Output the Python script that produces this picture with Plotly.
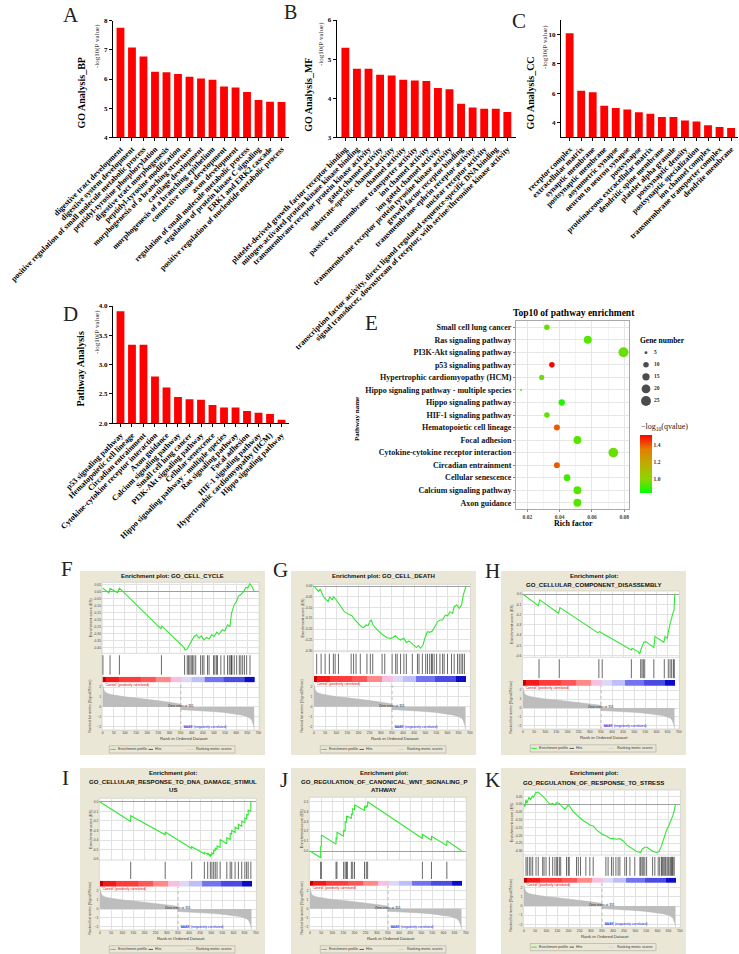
import plotly.graph_objects as go

W, H = 739, 954
SERIF = 'Liberation Serif'
SANS = 'Liberation Sans'

# ---------------- data ----------------
A_TERMS = ["digestive tract development", "digestive system development",
           "positive regulation of small molecule metabolic process", "peptidyl-tyrosine phosphorylation",
           "digestive tract morphogenesis", "peptidyl-tyrosine modification",
           "morphogenesis of a branching structure", "cartilage development",
           "morphogenesis of a branching epithelium", "connective tissue development",
           "axon development", "regulation of small molecule metabolic process",
           "regulation of protein kinase C signaling", "ERK1 and ERK2 cascade",
           "positive regulation of nucleotide metabolic process"]
A_LOGP = [7.76, 7.08, 6.77, 6.25, 6.23, 6.17, 6.08, 6.02, 5.97, 5.74, 5.71, 5.55, 5.28, 5.22, 5.21]

B_TERMS = ["platelet-derived growth factor receptor binding",
           "mitogen-activated protein kinase kinase binding",
           "transmembrane receptor protein kinase activity",
           "gated channel activity", "substrate-specific channel activity", "channel activity",
           "passive transmembrane transporter activity", "ion channel activity",
           "ion gated channel activity", "transmembrane receptor protein tyrosine kinase activity",
           "growth factor receptor binding", "transmembrane-ephrin receptor activity",
           "nuclear receptor activity",
           "transcription factor activity, direct ligand regulated sequence-specific DNA binding",
           "signal transducer, downstream of receptor, with serine/threonine kinase activity"]
B_LOGP = [5.29, 4.75, 4.75, 4.60, 4.58, 4.47, 4.45, 4.44, 4.26, 4.23, 3.86, 3.76, 3.73, 3.73, 3.65]

C_TERMS = ["receptor complex", "extracellular matrix", "synaptic membrane", "postsynaptic membrane",
           "asymmetric synapse", "neuron to neuron synapse", "postsynapse",
           "proteinaceous extracellular matrix", "dendritic spine membrane", "platelet alpha granule",
           "postsynaptic density", "postsynaptic specialization", "ion channel complex",
           "transmembrane transporter complex", "dendrite membrane"]
C_LOGP = [10.1, 6.18, 6.07, 5.16, 5.0, 4.89, 4.70, 4.61, 4.38, 4.38, 4.14, 4.07, 3.82, 3.71, 3.64]

D_TERMS = ["p53 signaling pathway", "Hematopoietic cell lineage", "Circadian entrainment",
           "Cytokine-cytokine receptor interaction", "Axon guidance", "Calcium signaling pathway",
           "Small cell lung cancer", "PI3K-Akt signaling pathway", "Cellular senescence",
           "Hippo signaling pathway - multiple species", "Ras signaling pathway", "Focal adhesion",
           "HIF-1 signaling pathway", "Hypertrophic cardiomyopathy (HCM)", "Hippo signaling pathway"]
D_LOGP = [3.91, 3.34, 3.34, 2.80, 2.61, 2.45, 2.41, 2.40, 2.31, 2.27, 2.27, 2.21, 2.18, 2.16, 2.06]

E_PATHWAYS = ["Small cell lung cancer", "Ras signaling pathway", "PI3K-Akt signaling pathway",
              "p53 signaling pathway", "Hypertrophic cardiomyopathy (HCM)",
              "Hippo signaling pathway - multiple species", "Hippo signaling pathway",
              "HIF-1 signaling pathway", "Hematopoietic cell lineage", "Focal adhesion",
              "Cytokine-cytokine receptor interaction", "Circadian entrainment",
              "Cellular senescence", "Calcium signaling pathway", "Axon guidance"]
E_RICH = [0.0321, 0.0574, 0.0795, 0.0352, 0.0289, 0.0161, 0.0413, 0.0321, 0.0383, 0.0510,
          0.0732, 0.0383, 0.0446, 0.0510, 0.0510]
E_GENES = [10, 17, 25, 10, 9, 4, 12, 10, 11, 17, 24, 11, 13, 17, 17]
E_NLOGQ = [0.95, 0.93, 0.95, 1.52, 0.95, 0.95, 0.86, 0.95, 1.40, 0.93, 0.95, 1.40, 0.90, 0.93, 0.93]
LEGEND_GENES = [5, 10, 15, 20, 25]
E_XTICKS = [0.02, 0.04, 0.06, 0.08]
E_CTICKS = [1.0, 1.2, 1.4]

# shared ranked list (Signal2Noise) of the GSEA panels
ZERO_CROSS = 351
RM_RANK = [0, 2, 5, 10, 20, 35, 50, 75, 100, 150, 200, 250, 300, 330, 351, 351, 400, 450,
           500, 550, 600, 630, 650, 662, 670, 675, 679, 681]
RM_VAL = [2.3, 2.0, 1.75, 1.52, 1.38, 1.27, 1.2, 1.1, 1.02, 0.9, 0.78, 0.62, 0.46, 0.36, 0.28,
          -0.28, -0.33, -0.40, -0.48, -0.58, -0.72, -0.85, -1.0, -1.15, -1.35, -1.6, -1.95, -2.3]
CB_EDGES = [0, 12, 70, 170, 240, 305, 355, 400, 460, 545, 640, 681]
CB_LEVELS = [0, 1, 2, 3, 4, 5, 6, 7, 8, 9, 10]

F_ES_RANK = [0, 27, 33, 66, 75, 262, 265, 365, 370, 380, 388, 398, 410, 422, 433, 443, 455, 466,
             478, 489, 501, 513, 523, 538, 549, 561, 572, 579, 591, 602, 609, 621, 634, 644, 652,
             661, 670, 681]
F_ES = [0.025, -0.008, 0.024, -0.008, 0.024, -0.264, -0.243, -0.395, -0.415, -0.407, -0.383,
        -0.35, -0.32, -0.307, -0.331, -0.314, -0.343, -0.326, -0.336, -0.307, -0.317, -0.288,
        -0.302, -0.271, -0.279, -0.236, -0.248, -0.152, -0.093, -0.069, -0.033, -0.021, 0.002,
        0.031, 0.026, 0.055, 0.038, 0.0]
F_HITS = [1, 33, 75, 264, 368, 380, 386, 392, 398, 404, 410, 418, 440, 448, 455, 471, 478, 498,
          504, 511, 516, 531, 546, 561, 569, 576, 579, 581, 591, 602, 614, 621, 629, 637, 647, 662]

G_ES_RANK = [0, 20, 27, 43, 63, 71, 82, 87, 95, 110, 125, 137, 148, 170, 185, 200, 213, 223, 234,
             243, 250, 258, 265, 284, 306, 329, 344, 354, 366, 378, 389, 404, 415, 427, 439, 449,
             460, 469, 479, 490, 499, 510, 520, 532, 543, 555, 566, 578, 590, 600, 611, 623, 630,
             641, 653, 663, 671, 679, 683]
G_ES = [0.0, -0.026, -0.014, -0.05, -0.073, -0.05, -0.065, -0.05, -0.057, -0.08, -0.10, -0.12,
        -0.127, -0.138, -0.158, -0.173, -0.189, -0.193, -0.181, -0.184, -0.166, -0.158, -0.181,
        -0.204, -0.224, -0.24, -0.243, -0.24, -0.231, -0.243, -0.251, -0.243, -0.262, -0.255,
        -0.266, -0.274, -0.286, -0.277, -0.289, -0.274, -0.24, -0.212, -0.215, -0.209, -0.189,
        -0.166, -0.158, -0.158, -0.135, -0.138, -0.119, -0.127, -0.096, -0.088, -0.104, -0.088,
        -0.042, -0.011, 0.0]
G_HITS = [12, 32, 50, 69, 87, 95, 110, 167, 178, 189, 208, 238, 253, 264, 306, 318, 351, 367, 374,
          389, 404, 415, 442, 465, 472, 487, 502, 510, 520, 528, 532, 540, 551, 566, 578, 585, 600,
          618, 630, 645, 653, 661, 668, 676]

H_ES_RANK = [0, 69, 75, 160, 166, 336, 344, 356, 487, 490, 517, 525, 529, 537, 543, 552, 588, 593,
             633, 638, 649, 653, 658, 664, 668, 673, 679, 682]
H_ES = [0.0, -0.111, -0.055, -0.186, -0.13, -0.375, -0.365, -0.381, -0.544, -0.528, -0.56, -0.586,
        -0.544, -0.489, -0.469, -0.463, -0.521, -0.414, -0.469, -0.414, -0.43, -0.365, -0.316,
        -0.267, -0.25, -0.186, -0.153, 0.0]
H_HITS = [72, 163, 341, 356, 487, 529, 535, 541, 547, 588, 635, 653, 661, 668, 676, 680]

I_ES_RANK = [0, 138, 138, 293, 293, 412, 412, 469, 469, 484, 484, 496, 496, 503, 503, 511, 511,
             518, 518, 526, 526, 540, 540, 570, 570, 585, 585, 592, 592, 607, 607, 622, 622, 637,
             637, 651, 651, 659, 659, 666, 666, 678, 678, 681]
I_ES = [0.0, -0.205, -0.145, -0.345, -0.315, -0.49, -0.47, -0.545, -0.53, -0.55, -0.535, -0.575,
        -0.55, -0.56, -0.535, -0.545, -0.505, -0.515, -0.485, -0.495, -0.46, -0.48, -0.395, -0.44,
        -0.375, -0.395, -0.33, -0.34, -0.30, -0.32, -0.265, -0.285, -0.235, -0.255, -0.20, -0.22,
        -0.17, -0.18, -0.13, -0.14, -0.085, -0.10, -0.005, 0.0]
I_HITS = [138, 293, 412, 469, 484, 496, 503, 511, 518, 526, 540, 570, 585, 592, 607, 622, 637, 651,
          659, 666, 678]

J_ES_RANK = [0, 48, 48, 51, 51, 117, 117, 121, 121, 151, 151, 158, 158, 164, 164, 168, 168, 186,
             186, 192, 192, 200, 200, 245, 245, 253, 253, 259, 259, 505, 505, 546, 546, 615, 615,
             681]
J_ES = [0.0, -0.068, 0.05, 0.045, 0.162, 0.07, 0.13, 0.125, 0.19, 0.15, 0.21, 0.20, 0.30, 0.29,
        0.35, 0.345, 0.355, 0.33, 0.38, 0.37, 0.43, 0.42, 0.47, 0.41, 0.45, 0.44, 0.46, 0.455, 0.50,
        0.127, 0.17, 0.11, 0.15, 0.055, 0.105, 0.003]
J_HITS = [48, 51, 117, 121, 151, 158, 164, 168, 186, 192, 200, 245, 253, 259, 505, 546, 615]

K_ES_RANK = [0, 4, 9, 13, 22, 30, 37, 43, 52, 64, 75, 87, 102, 117, 129, 136, 147, 159, 169, 184,
             199, 206, 221, 236, 251, 266, 281, 296, 311, 326, 341, 356, 371, 386, 401, 416, 431,
             446, 461, 476, 491, 506, 524, 531, 543, 553, 565, 580, 595, 607, 617, 628, 640, 652,
             662, 670, 676, 681]
K_ES = [0.0, -0.015, 0.03, 0.006, 0.045, 0.03, 0.053, 0.045, 0.075, 0.079, 0.064, 0.049, 0.023,
        0.0, 0.006, -0.004, 0.011, 0.006, -0.011, -0.032, -0.004, -0.015, -0.047, -0.068, -0.09,
        -0.105, -0.117, -0.132, -0.139, -0.164, -0.181, -0.196, -0.203, -0.218, -0.22, -0.224,
        -0.22, -0.235, -0.26, -0.275, -0.292, -0.303, -0.309, -0.288, -0.275, -0.275, -0.288,
        -0.303, -0.309, -0.303, -0.27, -0.218, -0.169, -0.132, -0.10, -0.068, -0.036, 0.0]
K_HITS = [9, 15, 24, 31, 39, 54, 64, 84, 90, 99, 114, 129, 139, 147, 151, 159, 165, 191, 199, 203,
          236, 244, 254, 278, 296, 311, 368, 378, 393, 401, 413, 423, 431, 453, 461, 476, 498, 521,
          525, 531, 536, 543, 551, 578, 588, 603, 610, 618, 622, 628, 633, 637, 643, 648, 652, 658,
          663, 667, 670, 675]

# ---------------- helpers ----------------
fig = go.Figure()
layout = dict(width=W, height=H, margin=dict(l=0, r=0, t=0, b=0, pad=0, autoexpand=False),
              paper_bgcolor='white', plot_bgcolor='rgba(0,0,0,0)', showlegend=False)
annotations, shapes = [], []
cnt = [0]


def px2x(p):
    return p / W


def px2y(p):
    return 1 - p / H


def add_axes(xpx, ypx, xkw=None, ykw=None):
    cnt[0] += 1
    n = cnt[0]
    s = '' if n == 1 else str(n)
    xa = dict(domain=[px2x(xpx[0]), px2x(xpx[1])], anchor='y' + s, showgrid=False, zeroline=False,
              showticklabels=False, ticks='', showline=False, fixedrange=True, automargin=False)
    ya = dict(domain=[px2y(ypx[1]), px2y(ypx[0])], anchor='x' + s, showgrid=False, zeroline=False,
              showticklabels=False, ticks='', showline=False, fixedrange=True, automargin=False)
    if xkw:
        xa.update(xkw)
    if ykw:
        ya.update(ykw)
    layout['xaxis' + s] = xa
    layout['yaxis' + s] = ya
    return 'x' + s, 'y' + s


def ann(text, x, y, size, color='black', family=SERIF, bold=False, angle=0, xanchor='center',
        yanchor='middle'):
    annotations.append(dict(text=text, x=px2x(x), y=px2y(y), xref='paper', yref='paper',
                            showarrow=False, textangle=angle, xanchor=xanchor, yanchor=yanchor,
                            borderpad=0,
                            font=dict(family=family, size=size, color=color,
                                      weight='bold' if bold else 'normal')))


def rect(x0, y0, x1, y1, fill=None, line=None, lw=0.8):
    shapes.append(dict(type='rect', xref='paper', yref='paper', x0=px2x(x0), x1=px2x(x1),
                       y0=px2y(y1), y1=px2y(y0), fillcolor=fill or 'rgba(0,0,0,0)',
                       line=dict(color=line or 'rgba(0,0,0,0)', width=lw if line else 0),
                       layer='below'))


def seg(x0, y0, x1, y1, color, lw=0.8):
    shapes.append(dict(type='line', xref='paper', yref='paper', x0=px2x(x0), x1=px2x(x1),
                       y0=px2y(y0), y1=px2y(y1), line=dict(color=color, width=lw)))


# ---------------- bar panels A-D ----------------
def bar_panel(terms, vals, xpx, ypx, xr, yr, yticks, ytext):
    xa, ya = add_axes(
        xpx, ypx,
        dict(range=xr, tickmode='array', tickvals=list(range(len(terms))), ticktext=terms,
             tickangle=-45, showticklabels=True,
             tickfont=dict(family=SERIF, size=8, color='black', weight='bold'),
             ticks='outside', ticklen=3, tickwidth=1, tickcolor='black', showline=True,
             linecolor='black', linewidth=1.3),
        dict(range=yr, tickmode='array', tickvals=yticks, ticktext=ytext, showticklabels=True,
             tickfont=dict(family=SERIF, size=7, color='black', weight='bold'),
             ticks='outside', ticklen=3, tickwidth=1, tickcolor='black', showline=True,
             linecolor='black', linewidth=1.3))
    fig.add_trace(go.Bar(x=list(range(len(terms))), y=vals, xaxis=xa, yaxis=ya, width=0.68,
                         marker=dict(color='#ff0000', line=dict(width=0))))


bar_panel(A_TERMS, A_LOGP, (113, 289), (20.7, 137.3), [-0.65, 14.65], [4, 8],
          [4, 5, 6, 7, 8], ['4', '5', '6', '7', '8'])
bar_panel(B_TERMS, B_LOGP, (336.7, 516), (20, 137.3), [-0.75, 14.75], [3, 6],
          [3, 4, 5, 6], ['3', '4', '5', '6'])
bar_panel(C_TERMS, C_LOGP, (561, 738), (20, 137.3), [-0.75, 14.6], [3, 11],
          [4, 6, 8, 10], ['4', '6', '8', '10'])
bar_panel(D_TERMS, D_LOGP, (113, 289), (306, 423.3), [-0.65, 14.65], [2, 4],
          [2.0, 2.5, 3.0, 3.5, 4.0], ['2.0', '2.5', '3.0', '3.5', '4.0'])

ann('GO Analysis_BP', 81, 93.5, 10, bold=True, angle=-90)
ann('-log10(P value)', 97, 46, 7, color='#333', angle=-90)
ann('GO Analysis_MF', 307.7, 95, 10, bold=True, angle=-90)
ann('-log10(P value)', 321, 44, 7, color='#333', angle=-90)
ann('GO Analysis_CC', 530, 93.5, 10, bold=True, angle=-90)
ann('-log10(P value)', 545, 47, 7, color='#333', angle=-90)
ann('Pathway Analysis', 80, 369.5, 10, bold=True, angle=-90)
ann('-log10(P value)', 97, 332, 7, color='#333', angle=-90)

# ---------------- bubble panel E ----------------
CSCALE = [[0, '#00ff00'], [0.25, '#8fd400'], [0.5, '#bcae00'], [0.75, '#e47f00'], [1, '#ff0000']]


def bubble(n):
    return max(4.5 * n - 14, 3.0) ** 0.5


xa, ya = add_axes(
    (516, 629), (321, 509),
    dict(range=[0.013, 0.0829], tickmode='array', tickvals=E_XTICKS,
         ticktext=['%.2f' % v for v in E_XTICKS], showticklabels=True,
         tickfont=dict(family=SERIF, size=5.5, color='#444', weight='bold'),
         ticks='outside', ticklen=2, tickcolor='#888', showgrid=True, gridcolor='#e6e6e6',
         minor=dict(tickvals=[0.03, 0.05, 0.07], showgrid=True, gridcolor='#f3f3f3'),
         showline=True, mirror=True, linecolor='#a8a8a8', linewidth=1),
    dict(range=[14.5, -0.5], tickmode='array', tickvals=list(range(len(E_PATHWAYS))),
         ticktext=E_PATHWAYS, showticklabels=True,
         tickfont=dict(family=SERIF, size=8, color='#111', weight='bold'),
         ticks='outside', ticklen=2, tickcolor='#888', showgrid=True, gridcolor='#e6e6e6',
         showline=True, mirror=True, linecolor='#a8a8a8', linewidth=1))
fig.add_trace(go.Scatter(
    x=E_RICH, y=list(range(len(E_PATHWAYS))), mode='markers', xaxis=xa, yaxis=ya,
    marker=dict(size=[bubble(n) for n in E_GENES], color=E_NLOGQ, colorscale=CSCALE,
                cmin=0.825, cmax=1.52, opacity=1, line=dict(width=0),
                colorbar=dict(x=px2x(640), xanchor='left', y=px2y(464.2), yanchor='middle',
                              len=58.3 / H, lenmode='fraction', thickness=12,
                              thicknessmode='pixels', tickmode='array', tickvals=E_CTICKS,
                              ticktext=['%.1f' % v for v in E_CTICKS], ticks='',
                              tickfont=dict(family=SERIF, size=5.5, color='#333', weight='bold'),
                              outlinewidth=0, xpad=0, ypad=0))))
ann('Top10 of pathway enrichment', 574, 313, 9.5, bold=True)
ann('Rich factor', 573, 523, 8, bold=True)
ann('Pathway name', 357, 419, 7, bold=True, angle=-90)
ann('Gene number', 662, 340, 7.5, bold=True)
ann('\u2212log<sub>10</sub>(qvalue)', 664, 426.7, 8, color='#222')

la, lb = add_axes((640, 672), (346.6, 407.1), dict(range=[0, 32]), dict(range=[4.5, -0.5]))
fig.add_trace(go.Scatter(x=[6] * len(LEGEND_GENES), y=list(range(len(LEGEND_GENES))),
                         mode='markers', xaxis=la, yaxis=lb,
                         marker=dict(size=[bubble(n) for n in LEGEND_GENES], color='black',
                                     line=dict(width=0))))
fig.add_trace(go.Scatter(x=[14] * len(LEGEND_GENES), y=list(range(len(LEGEND_GENES))),
                         mode='text', xaxis=la, yaxis=lb, text=[str(n) for n in LEGEND_GENES],
                         textposition='middle right',
                         textfont=dict(family=SERIF, size=5.5, color='#333', weight='bold')))

# ---------------- GSEA panels F-K ----------------
BEIGE = '#ebe7d6'
GRID = '#e2e2e2'
GREEN = '#33e633'
S = 0.2225
XR = [-3, 703]
CB_COLORS = ['#c40000', '#f21a1a', '#ff3c3c', '#ff5757', '#ff8888', '#f8c0e0', '#ddd8f6',
             '#bfbff8', '#7373f0', '#4b4be2', '#0c0cc4']
nb = len(CB_COLORS)
CB_SCALE = []
for i, c in enumerate(CB_COLORS):
    CB_SCALE.append([i / nb, c])
    CB_SCALE.append([(i + 1) / nb, c])


def gsea(cfg, es_r, es_v, hits):
    bx0, bx1, by0, by1 = cfg['box']
    L = cfg['L']
    x0, x1 = L + XR[0] * S, L + XR[1] * S
    et, eb = cfg['es']
    hb, cb, rb = cfg['hb'], cfg['cb'], cfg['rb']
    rect(bx0, by0, bx1, by1, fill=BEIGE)
    rect(x0, et, x1, rb, fill='white', line='#c4c4c4', lw=0.6)
    seg(x0, eb, x1, eb, '#c4c4c4', 0.6)
    # enrichment score
    fmt = cfg['fmt']
    xa, ya = add_axes(
        (x0, x1), (et, eb),
        dict(range=XR, tickvals=list(range(0, 701, 50)), showgrid=True, gridcolor=GRID,
             gridwidth=0.5),
        dict(range=cfg['er'], tickmode='array', tickvals=cfg['eticks'],
             ticktext=[fmt.format(v) for v in cfg['eticks']], showticklabels=True,
             tickfont=dict(family=SANS, size=3.3, color='#444'), showgrid=True, gridcolor=GRID,
             gridwidth=0.5, zeroline=True, zerolinecolor='#a0a0a0', zerolinewidth=0.7))
    fig.add_trace(go.Scatter(x=es_r, y=es_v, mode='lines', line=dict(color=GREEN, width=1.1),
                             xaxis=xa, yaxis=ya))
    # hits
    xa, ya = add_axes((x0, x1), (eb, hb), dict(range=XR), dict(range=[-0.1, 1.1]))
    hx, hy = [], []
    for h in hits:
        hx += [h, h, None]
        hy += [0, 1, None]
    fig.add_trace(go.Scatter(x=hx, y=hy, mode='lines', line=dict(color='#2a2a2a', width=0.7),
                             xaxis=xa, yaxis=ya))
    # colour bar of the ranked list
    xa, ya = add_axes((x0, x1), (hb, cb), dict(range=XR), dict(range=[0, 1]))
    fig.add_trace(go.Heatmap(z=[CB_LEVELS], x=CB_EDGES, y=[0, 1], colorscale=CB_SCALE,
                             zmin=-0.5, zmax=nb - 0.5, showscale=False, xaxis=xa, yaxis=ya,
                             hoverinfo='skip'))
    # ranked list metric
    xa, ya = add_axes(
        (x0, x1), (cb, rb),
        dict(range=XR, tickmode='array', tickvals=list(range(0, 701, 50)), showticklabels=True,
             tickfont=dict(family=SANS, size=3.3, color='#444'), showgrid=True, gridcolor=GRID,
             gridwidth=0.5),
        dict(range=[-2.35, 2.5], tickmode='array', tickvals=[-2, -1, 0, 1, 2],
             showticklabels=True, tickfont=dict(family=SANS, size=3.3, color='#444'),
             showgrid=True, gridcolor=GRID, gridwidth=0.5))
    fig.add_trace(go.Scatter(x=RM_RANK, y=RM_VAL, mode='lines', fill='tozeroy',
                             line=dict(color='#b4b4b4', width=0.5), fillcolor='#bdbdbd',
                             xaxis=xa, yaxis=ya))
    fig.add_trace(go.Scatter(x=[ZERO_CROSS, ZERO_CROSS], y=[-2.35, 2.5], mode='lines',
                             line=dict(color='#9a9a9a', width=0.6, dash='dot'),
                             xaxis=xa, yaxis=ya))
    # texts
    cx = (bx0 + bx1) / 2
    for txt, ty in cfg['title']:
        ann(txt, cx, ty, 6.1, color='#111', family=SANS, bold=True)
    ann('Enrichment score (ES)', bx0 + 10.5, (et + eb) / 2, 3.9, color='#444', family=SANS,
        angle=-90)
    ann('Ranked list metric (Signal2Noise)', bx0 + 10.5, (cb + rb) / 2, 3.6, color='#444',
        family=SANS, angle=-90)
    ann("'Control' (positively correlated)", L + 1, cb + 2.3, 3.3, color='#e00000',
        family=SANS, xanchor='left')
    ann("'AAAB' (negatively correlated)", L + ZERO_CROSS * S + 1, rb - 3.4, 3.3,
        color='#2020e0', family=SANS, xanchor='left')
    ann('Zero cross at %d' % ZERO_CROSS, L + ZERO_CROSS * S, (cb + rb) / 2 - 0.5, 3.3,
        color='#222', family=SANS)
    ann('Rank in Ordered Dataset', L + 81, rb + 8.3, 4.3, color='#333', family=SANS)
    # legend
    ly = rb + 19.4
    rect(bx0 + 29.3, rb + 15.8, bx0 + 155, rb + 23, line='#9a9a9a', lw=0.5)
    seg(bx0 + 30.5, ly, bx0 + 35.8, ly, GREEN, 1)
    seg(bx0 + 68.5, ly, bx0 + 73, ly, '#333', 0.8)
    seg(bx0 + 106.5, ly, bx0 + 113, ly, '#cfcfcf', 0.8)
    ann('Enrichment profile', bx0 + 36.5, ly, 3.6, color='#333', family=SANS, xanchor='left')
    ann('Hits', bx0 + 74, ly, 3.6, color='#333', family=SANS, xanchor='left')
    ann('Ranking metric scores', bx0 + 114.5, ly, 3.6, color='#333', family=SANS, xanchor='left')


TICK2_F = [0.05, 0.0, -0.05, -0.10, -0.15, -0.20, -0.25, -0.30, -0.35, -0.40]
gsea(dict(box=(80, 265, 571, 755), L=102.7, es=(582.3, 653.3), er=[-0.438, 0.066],
          eticks=TICK2_F, fmt='{:.2f}', hb=676.7, cb=682.3, rb=730,
          title=[('Enrichment plot: GO_CELL_CYCLE', 575.9)]), F_ES_RANK, F_ES, F_HITS)
gsea(dict(box=(291, 476, 571, 755), L=314, es=(584.3, 651.7), er=[-0.305, 0.008],
          eticks=[0.0, -0.05, -0.10, -0.15, -0.20, -0.25, -0.30], fmt='{:.2f}', hb=676, cb=682,
          rb=730, title=[('Enrichment plot: GO_CELL_DEATH', 575.9)]), G_ES_RANK, G_ES, G_HITS)
gsea(dict(box=(501, 686, 571, 755), L=523, es=(591, 657.3), er=[-0.616, 0.032],
          eticks=[0.0, -0.1, -0.2, -0.3, -0.4, -0.5, -0.6], fmt='{:.1f}', hb=680, cb=685.7,
          rb=729, title=[('Enrichment plot:', 575.7), ('GO_CELLULAR_COMPONENT_DISASSEMBLY', 584.3)]),
     H_ES_RANK, H_ES, H_HITS)
gsea(dict(box=(80, 265, 768, 954), L=100, es=(798.3, 860), er=[-0.61, 0.038],
          eticks=[0.0, -0.1, -0.2, -0.3, -0.4, -0.5, -0.6], fmt='{:.1f}', hb=880.7, cb=886.7,
          rb=930, title=[('Enrichment plot:', 772.7),
                         ('GO_CELLULAR_RESPONSE_TO_DNA_DAMAGE_STIMUL', 781), ('US', 789.3)]),
     I_ES_RANK, I_ES, I_HITS)
gsea(dict(box=(291, 476, 768, 954), L=310, es=(797.3, 860), er=[-0.091, 0.545],
          eticks=[0.0, 0.1, 0.2, 0.3, 0.4, 0.5], fmt='{:.1f}', hb=880.7, cb=886, rb=930,
          title=[('Enrichment plot:', 772.7),
                 ('GO_REGULATION_OF_CANONICAL_WNT_SIGNALING_P', 781), ('ATHWAY', 789.3)]),
     J_ES_RANK, J_ES, J_HITS)
gsea(dict(box=(501, 686, 768, 954), L=524, es=(790, 855), er=[-0.325, 0.092],
          eticks=[0.05, 0.0, -0.05, -0.10, -0.15, -0.20, -0.25, -0.30], fmt='{:.2f}', hb=877.7,
          cb=883, rb=927.7,
          title=[('Enrichment plot:', 772.7), ('GO_REGULATION_OF_RESPONSE_TO_STRESS', 782)]),
     K_ES_RANK, K_ES, K_HITS)

# ---------------- panel letters ----------------
for letter, lx, ly, fs in [('A', 70.5, 15, 21), ('B', 290, 12.5, 20), ('C', 518.5, 21, 21),
                           ('D', 70.5, 314, 21), ('E', 371.7, 323, 21), ('F', 66.5, 568.5, 21),
                           ('G', 280, 570, 21), ('H', 492.5, 570.5, 21), ('I', 65, 777.5, 21),
                           ('J', 283.5, 779.5, 21), ('K', 492.5, 780, 21)]:
    ann(letter, lx, ly, fs, color='#222')

layout['annotations'] = annotations
layout['shapes'] = shapes
fig.update_layout(**layout)
fig.write_html('out.html', config={'displayModeBar': False},
               post_script="document.body.style.margin='0';document.body.style.overflow='hidden';")
